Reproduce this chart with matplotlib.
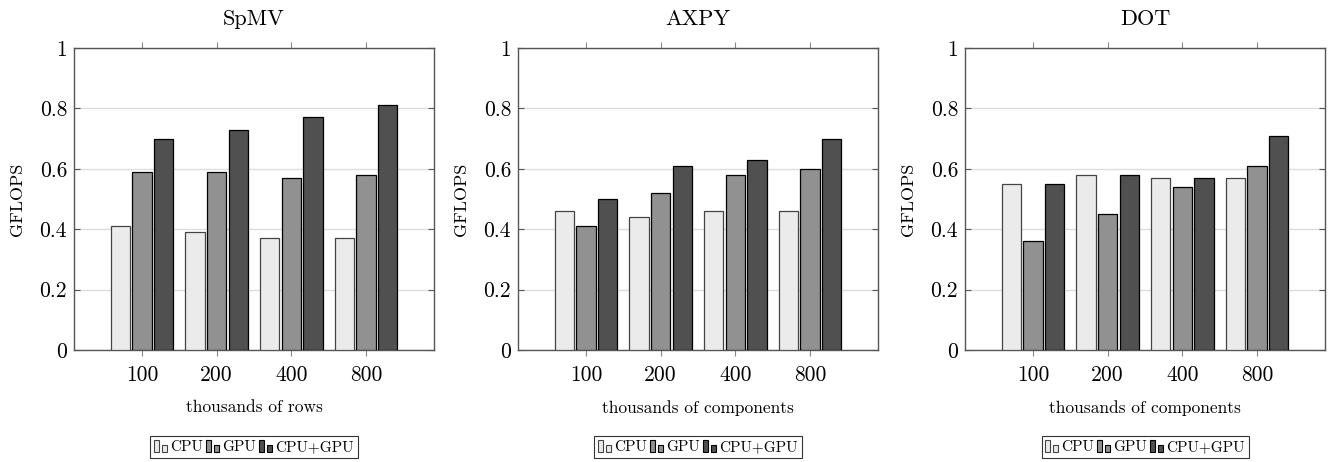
import numpy as np
import matplotlib
matplotlib.use("Agg")
import matplotlib.pyplot as plt
from matplotlib.patches import Rectangle
from matplotlib.legend_handler import HandlerBase

plt.rcParams['font.family'] = 'cmr10'
plt.rcParams['mathtext.fontset'] = 'cm'
plt.rcParams['axes.formatter.use_mathtext'] = True

# data
sizes = ['100', '200', '400', '800']
series = ['CPU', 'GPU', 'CPU+GPU']
titles = ['SpMV', 'AXPY', 'DOT']
xlabels = ['thousands of rows', 'thousands of components', 'thousands of components']

spmv_cpu = [0.41, 0.39, 0.37, 0.37]
spmv_gpu = [0.59, 0.59, 0.57, 0.58]
spmv_both = [0.70, 0.73, 0.77, 0.81]

axpy_cpu = [0.46, 0.44, 0.46, 0.46]
axpy_gpu = [0.41, 0.52, 0.58, 0.60]
axpy_both = [0.50, 0.61, 0.63, 0.70]

dot_cpu = [0.55, 0.58, 0.57, 0.57]
dot_gpu = [0.36, 0.45, 0.54, 0.61]
dot_both = [0.55, 0.58, 0.57, 0.71]

panels = [
    (spmv_cpu, spmv_gpu, spmv_both),
    (axpy_cpu, axpy_gpu, axpy_both),
    (dot_cpu, dot_gpu, dot_both),
]

colors = ['#ebebeb', '#919191', '#505050']
edges = ['#444444', 'black', 'black']
yticks = [0, 0.2, 0.4, 0.6, 0.8, 1.0]
ytick_labels = ['0', '0.2', '0.4', '0.6', '0.8', '1']


class TwoBarHandler(HandlerBase):
    # pgfplots-style ybar legend image: a tall bar and a short one
    def create_artists(self, legend, orig_handle, xdescent, ydescent,
                       width, height, fontsize, trans):
        fc = orig_handle.get_facecolor()
        ec = orig_handle.get_edgecolor()
        r1 = Rectangle((-xdescent, -ydescent), width * 0.35, height * 1.0,
                       facecolor=fc, edgecolor=ec, lw=0.8, transform=trans)
        r2 = Rectangle((-xdescent + width * 0.55, -ydescent), width * 0.4, height * 0.6,
                       facecolor=fc, edgecolor=ec, lw=0.8, transform=trans)
        return [r1, r2]


fig = plt.figure(figsize=(13.31, 4.62), dpi=100)
lefts = [74, 518, 965]
W, H = 1331, 462

x = np.arange(len(sizes))
bw = 0.26
offs = [-0.29, 0, 0.29]

for i, (vals, title, xl) in enumerate(zip(panels, titles, xlabels)):
    ax = fig.add_axes([lefts[i] / W, (H - 350) / H, 360 / W, 302 / H])
    handles = []
    for j, v in enumerate(vals):
        b = ax.bar(x + offs[j], v, bw, color=colors[j], edgecolor=edges[j],
                   linewidth=0.9, zorder=3, label=series[j])
        handles.append(b[0])
    ax.set_xlim(-0.91, 3.91)
    ax.set_ylim(0, 1)
    ax.set_xticks(x)
    ax.set_xticklabels(sizes, fontsize=15.5)
    ax.set_yticks(yticks)
    ax.set_yticklabels(ytick_labels, fontsize=15.5)
    ax.yaxis.grid(True, color='#dddddd', lw=1, zorder=0)
    ax.tick_params(axis='x', direction='out', top=True, length=4, color='#888888', pad=7)
    ax.tick_params(axis='y', direction='in', right=True, length=4, color='#555555', pad=5)
    for s in ax.spines.values():
        s.set_color('#555555')
        s.set_linewidth(1.0)
    ax.set_title(title, fontsize=16, y=1.075, pad=0)
    ax.set_xlabel(xl, fontsize=12.5)
    ax.xaxis.set_label_coords(0.5, -0.165)
    ax.set_ylabel('GFLOPS', fontsize=13)
    ax.yaxis.set_label_coords(-0.135, 0.5)

    leg = fig.legend(handles, series, loc='center',
                     bbox_to_anchor=((lefts[i] + 180) / W, 1 - 447 / H),
                     ncol=3, fontsize=11, frameon=True, fancybox=False,
                     handler_map={h: TwoBarHandler() for h in handles},
                     handlelength=0.9, handleheight=0.8, handletextpad=0.15,
                     columnspacing=0.2, borderpad=0.25, borderaxespad=0)
    leg.get_frame().set_edgecolor('black')
    leg.get_frame().set_linewidth(0.8)

fig.savefig('out.png', dpi=100)
